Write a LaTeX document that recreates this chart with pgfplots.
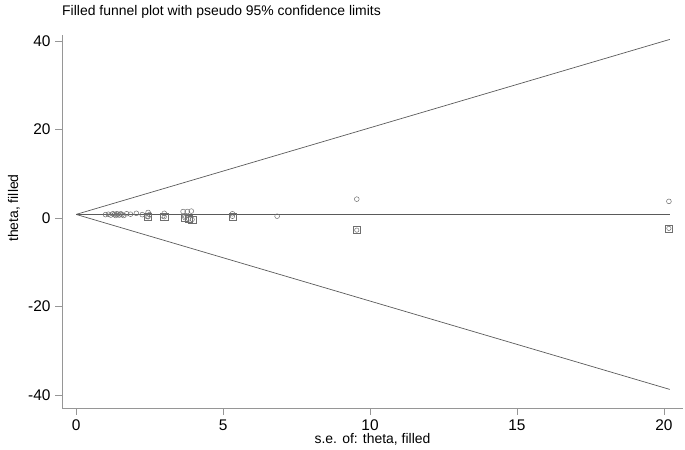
\documentclass[border=0pt]{standalone}
\usepackage{pgfplots}
\pgfplotsset{compat=1.18}
\usepackage{fontspec}
\setmainfont{Liberation Sans}
\definecolor{linegray}{RGB}{90,90,90}
\definecolor{axgray}{RGB}{150,150,150}
\definecolor{mkgray}{RGB}{110,110,110}
\begin{document}
\begin{tikzpicture}[x=1bp,y=1bp]
\useasboundingbox (0,0) rectangle (685,450);
\begin{axis}[
  at={(62bp,42bp)}, anchor=south west,
  scale only axis, width=621bp, height=373bp,
  xmin=-0.48, xmax=20.65, ymin=-42.9, ymax=41.4,
  axis x line*=bottom, axis y line*=left,
  axis line style={axgray, line width=0.8pt, -},
  xtick={0,5,10,15,20}, ytick={-40,-20,0,20,40},
  tick align=outside, major tick length=7bp,
  tick style={axgray, line width=0.8pt},
  every tick label/.append style={font=\fontsize{15.5}{16}\selectfont},
  /pgf/number format/assume math mode=true,
  xticklabel style={yshift=-1bp},
  yticklabel style={xshift=-1bp},
  xlabel={s.e. of: theta, filled},
  ylabel={theta, filled},
  label style={font=\fontsize{14}{15}\selectfont},
  xlabel style={at={(axis description cs:0.5,0)}, anchor=north, yshift=-22bp},
  ylabel style={at={(axis description cs:-0.0773,0.536)}, anchor=center},
  clip=false,
]
% funnel limits
\addplot[linegray, line width=0.7pt] coordinates {(0,0.85) (20.2,40.4)};
\addplot[linegray, line width=0.7pt] coordinates {(0,0.85) (20.2,-38.7)};
\addplot[linegray, line width=0.7pt] coordinates {(0,0.85) (20.2,0.85)};
% observed studies
\addplot[only marks, mark=o, mark size=2.4bp, mark options={mkgray, line width=0.5pt}] coordinates {
(1.00,0.8) (1.10,0.9) (1.18,0.7) (1.25,1.0) (1.30,0.8) (1.35,0.6) (1.38,1.0)
(1.42,0.9) (1.47,0.7) (1.52,1.0) (1.56,0.8) (1.62,0.6) (1.72,1.0) (1.85,0.9)
(2.05,1.1) (2.25,0.8) (2.45,1.3) (2.50,0.8) (2.42,0.4)
(3.00,1.1) (2.95,0.5)
(3.64,1.5) (3.78,1.5) (3.92,1.6) (3.70,0.5)
(5.32,1.0) (6.84,0.45) (9.55,4.3) (20.17,3.8)};
% filled studies
\addplot[only marks, mark=square, mark size=3.6bp, mark options={mkgray, line width=0.5pt}] coordinates {
(2.45,0.3) (3.00,0.3) (3.70,0.1) (3.83,-0.2) (3.95,-0.3) (5.32,0.4) (9.55,-2.7) (20.17,-2.3)};
\addplot[only marks, mark=o, mark size=2.2bp, mark options={mkgray, line width=0.5pt}] coordinates {
(2.45,0.3) (3.00,0.3) (3.70,0.1) (3.83,-0.2) (3.95,-0.3) (5.32,0.4) (9.55,-2.7) (20.17,-2.3)};
\end{axis}
\node[anchor=base west, font=\fontsize{14}{15}\selectfont, inner sep=0pt] at (62,434) {Filled funnel plot with pseudo 95\% confidence limits};
\end{tikzpicture}
\end{document}
